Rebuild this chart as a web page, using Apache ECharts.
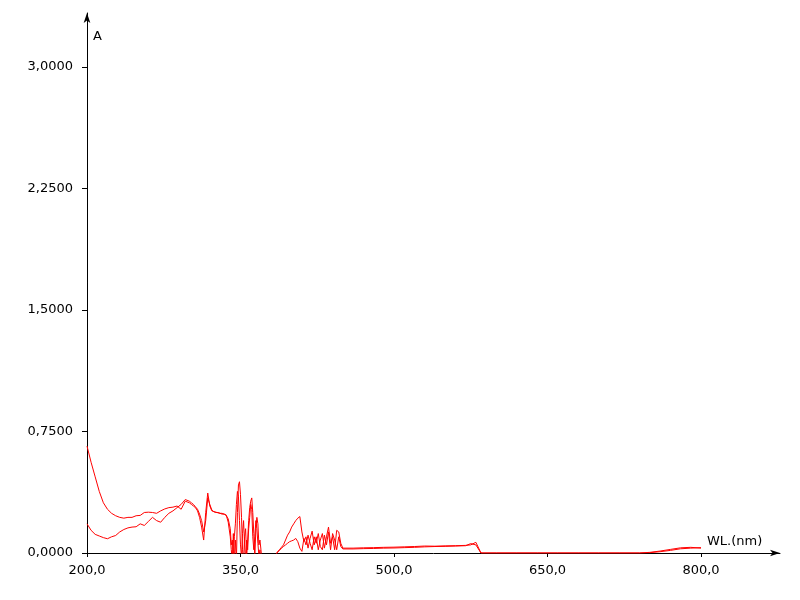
<!DOCTYPE html>
<html>
<head>
<meta charset="utf-8">
<title>Spectrum</title>
<script src="https://cdn.jsdelivr.net/npm/echarts@6/dist/echarts.min.js"></script>
<style>
  html, body { margin: 0; padding: 0; background: #fff; }
</style>
</head>
<body>
<div id="chart" style="width: 800px; height: 600px;"></div>
<script>
// wavelength grid (nm)
var wavelengths = [
  200, 204, 208, 212, 216, 220, 224, 228, 232, 236, 240, 244, 248, 252, 256, 260, 264, 268, 272, 276, 280, 284, 288, 292, 296, 300,
  302, 304, 306, 308, 310, 312, 314, 316, 318, 320, 322, 324, 326, 328, 330, 332, 334, 336, 338, 340,
  341, 342, 343, 344, 345, 346, 347, 348, 349, 350, 351, 352, 353, 354, 355, 356, 357, 358, 359, 360, 361, 362, 363, 364, 365, 366, 367, 368, 369, 370, 371, 372,
  378, 384, 386, 388, 390, 392, 394, 396, 398, 400, 402, 404, 406, 408, 410, 412, 414, 416, 418, 420, 422, 424, 426, 428, 430, 432, 434, 436, 438, 440, 442, 444, 446, 448, 450,
  460, 470, 480, 490, 500, 510, 520, 530, 540, 550, 560, 570, 575, 580, 585,
  600, 620, 640, 660, 680, 700, 720, 740, 750, 760, 770, 780, 790, 800
];

// absorbance, scan 1
var absScan1 = [
  0.66, 0.56, 0.47, 0.38, 0.31, 0.27, 0.245, 0.23, 0.22, 0.215, 0.22, 0.22, 0.23, 0.232, 0.25, 0.252, 0.25, 0.245, 0.26, 0.272, 0.28, 0.283, 0.29, 0.27, 0.32, 0.31,
  0.30, 0.29, 0.28, 0.26, 0.22, 0.16, 0.08, 0.25, 0.37, 0.29, 0.26, 0.255, 0.25, 0.25, 0.245, 0.245, 0.24, 0.235, 0.19, 0.10,
  0.02, -0.05, 0.12, -0.05, 0.08, -0.05, 0.25, 0.42, 0.44, 0.36, 0.22, 0.02, -0.05, 0.10, 0.15, -0.03, 0.08, 0.20, 0.28, 0.32, 0.34, 0.25, 0.12, -0.03, 0.15, 0.22, 0.18, 0.05, 0.08, 0.02, -0.05, -0.10,
  -0.10, -0.02, 0.005, 0.02, 0.035, 0.05, 0.08, 0.11, 0.13, 0.16, 0.18, 0.20, 0.215, 0.225, 0.13, 0.07, 0.10, 0.03, 0.09, 0.135, 0.05, 0.10, 0.02, 0.08, 0.12, 0.03, 0.10, 0.16, 0.06, 0.10, 0.02, 0.14, 0.13, 0.06, 0.03,
  0.03, 0.032, 0.033, 0.035, 0.036, 0.038, 0.04, 0.043, 0.042, 0.044, 0.045, 0.047, 0.05, 0.066, 0.0,
  0, 0, 0, 0, 0, 0, 0, 0, 0.004, 0.012, 0.022, 0.032, 0.035, 0.03
];

// absorbance, scan 2
var absScan2 = [
  0.18, 0.14, 0.115, 0.105, 0.095, 0.088, 0.10, 0.108, 0.13, 0.145, 0.155, 0.16, 0.162, 0.18, 0.17, 0.195, 0.22, 0.20, 0.19, 0.22, 0.245, 0.26, 0.28, 0.30, 0.33, 0.32,
  0.31, 0.30, 0.285, 0.27, 0.24, 0.20, 0.13, 0.20, 0.34, 0.30, 0.265, 0.255, 0.252, 0.248, 0.245, 0.24, 0.24, 0.232, 0.21, 0.15,
  0.05, 0.08, -0.03, 0.10, 0.18, 0.30, 0.38, 0.35, 0.20, 0.05, -0.03, 0.12, 0.20, 0.05, -0.04, 0.08, 0.02, 0.15, 0.22, 0.30, 0.27, 0.10, 0.02, 0.10, 0.20, 0.15, 0.06, -0.02, 0.02, -0.05, -0.10, -0.10,
  -0.10, -0.02, 0.005, 0.015, 0.03, 0.04, 0.05, 0.06, 0.07, 0.075, 0.08, 0.09, 0.07, 0.03, 0.01, 0.09, 0.05, 0.11, 0.06, 0.02, 0.10, 0.06, 0.12, 0.04, 0.02, 0.11, 0.05, 0.13, 0.02, 0.12, 0.08, 0.02, 0.10, 0.04, 0.025,
  0.025, 0.027, 0.028, 0.03, 0.031, 0.033, 0.035, 0.038, 0.04, 0.041, 0.043, 0.045, 0.058, 0.05, 0.0,
  0, 0, 0, 0, 0, 0, 0, 0, 0.002, 0.008, 0.016, 0.026, 0.03, 0.033
];

var xTicks = [200, 350, 500, 650, 800];
var yTicks = [0, 0.75, 1.5, 2.25, 3];

function pairs(xs, ys) {
  return xs.map(function (x, i) { return [x, ys[i]]; });
}

var fontFamily = "DejaVu Sans";
var myChart = echarts.init(document.getElementById("chart"));

myChart.setOption({
  backgroundColor: "#fff",
  animation: false,
  grid: { left: 87, right: 20, top: 13, bottom: 47, outerBoundsMode: "none" },
  xAxis: {
    type: "value",
    min: 200,
    max: 877.2,
    axisLine: {
      lineStyle: { color: "#000", width: 1 },
      symbol: ["none", "arrow"],
      symbolSize: [5, 10]
    },
    axisTick: { show: true, length: 4, customValues: xTicks, lineStyle: { color: "#000" } },
    axisLabel: {
      customValues: xTicks,
      margin: 11,
      color: "#000",
      fontFamily: fontFamily,
      fontSize: 13,
      formatter: function (v) { return v.toFixed(1).replace(".", ","); }
    },
    splitLine: { show: false }
  },
  yAxis: {
    type: "value",
    min: 0,
    max: 3.3333,
    axisLine: {
      show: true,
      lineStyle: { color: "#000", width: 1 },
      symbol: ["none", "arrow"],
      symbolSize: [5, 10]
    },
    axisTick: { show: true, length: 5, customValues: yTicks, lineStyle: { color: "#000" } },
    axisLabel: {
      customValues: yTicks,
      margin: 14,
      color: "#000",
      fontFamily: fontFamily,
      fontSize: 13,
      formatter: function (v) { return v.toFixed(4).replace(".", ","); }
    },
    splitLine: { show: false }
  },
  graphic: [
    {
      type: "text", left: 93, top: 30,
      style: { text: "A", fill: "#000", font: "13px DejaVu Sans" }
    },
    {
      type: "text", left: 707, top: 535,
      style: { text: "WL.(nm)", fill: "#000", font: "13px DejaVu Sans" }
    }
  ],
  series: [
    {
      name: "scan 1",
      type: "line",
      symbol: "none",
      clip: true,
      lineStyle: { color: "#ff0000", width: 1 },
      data: pairs(wavelengths, absScan1)
    },
    {
      name: "scan 2",
      type: "line",
      symbol: "none",
      clip: true,
      lineStyle: { color: "#ff0000", width: 1 },
      data: pairs(wavelengths, absScan2)
    }
  ]
});
</script>
</body>
</html>
